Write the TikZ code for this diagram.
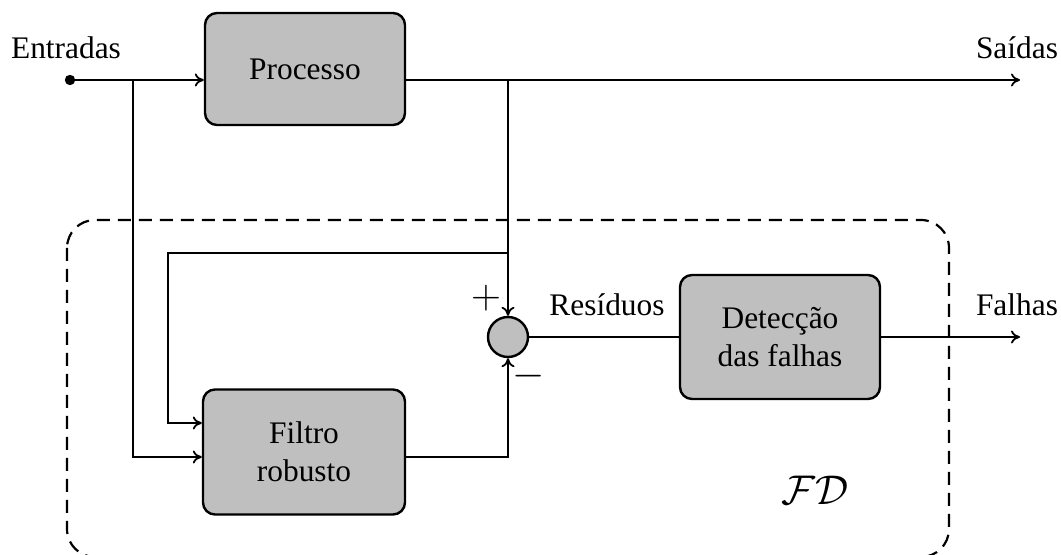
\documentclass[tikz,border=0pt]{standalone}
\usepackage{fontspec}
\setmainfont{Liberation Serif}
\usetikzlibrary{arrows.meta}
\newcommand\diagfont{\fontsize{15.7}{19}\selectfont}
\begin{document}
\begin{tikzpicture}[x=0.5pt,y=-0.5pt,
  block/.style={draw,line width=1.2pt,fill=black!25,rounded corners=6pt,
                align=center,font=\diagfont,inner sep=0pt},
  wire/.style={line width=0.9pt},
  arr/.style={wire,-{To[length=4.5pt,width=6.5pt]}},
  lbl/.style={font=\diagfont,inner sep=0pt}]
\useasboundingbox (0,0) rectangle (1061,555);

% fault detection subsystem frame
\draw[line width=1.1pt,dash pattern=on 6.5pt off 4pt,rounded corners=14pt]
  (67,220) rectangle (949,557);

% blocks
\node[block,minimum width=100pt,minimum height=56pt] (proc) at (305,69) {Processo};
\node[block,minimum width=101pt,minimum height=62.5pt] (filt) at (304,452) {Filtro\\robusto};
\node[block,minimum width=100pt,minimum height=62pt] (det) at (780,337) {Detecção\\das falhas};
\node[draw,line width=1.2pt,fill=black!25,circle,minimum size=20pt,inner sep=0pt] (sum) at (508,337) {};

% labels
\node[lbl] (tin) at (66,48) {Entradas};
\node[lbl] (tout) at (1017,48) {Saídas};
\node[lbl] (tres) at (607,305) {Resíduos};
\node[lbl] (tfail) at (1017,305) {Falhas};
\node[inner sep=0pt] (tplus) at (486,298) {\fontsize{20}{24}\selectfont$+$};
\node[inner sep=0pt] (tminus) at (529,376) {\fontsize{20}{24}\selectfont$-$};
\node[inner sep=0pt] (tfd) at (815,490) {\fontsize{22}{26}\selectfont$\mathcal{FD}$};

% coordinates
\coordinate (in) at (70,80);
\coordinate (outP) at (405,80);
\coordinate (tap) at (508,80);
\coordinate (yend) at (1020,80);
\coordinate (ia) at (133,80);
\coordinate (fb) at (508,253);
\coordinate (fbl) at (168,253);
\coordinate (fout) at (405,457);
\coordinate (fend) at (1020,337);

% connections
\fill (in) circle (2.6pt);
\draw[arr] (in) -- (in -| proc.west);
\draw[arr] (outP) -- (yend);
\draw[arr] (tap) -- (sum.north);
\draw[arr] (ia) |- (filt.west |- 0,457);
\draw[arr] (fb) -- (fbl) |- (filt.west |- 0,423);
\draw[arr] (fout) -| (sum.south);
\draw[wire] (sum.east) -- (det.west);
\draw[arr] (det.east) -- (fend);
\end{tikzpicture}
\end{document}
